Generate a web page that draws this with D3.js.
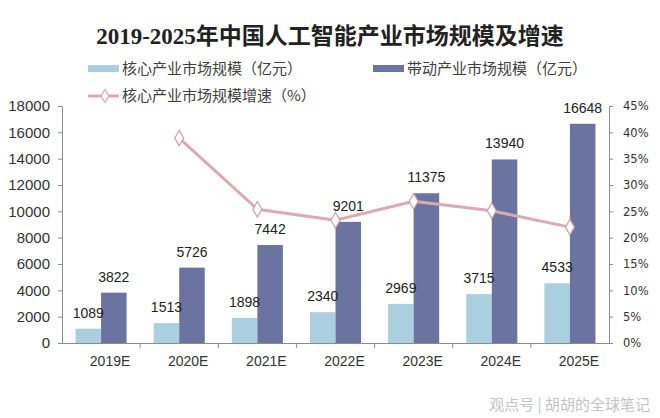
<!DOCTYPE html>
<html>
<head>
<meta charset="utf-8">
<script src="https://cdn.jsdelivr.net/npm/d3@7"></script>
<style>
  html, body { margin: 0; padding: 0; background: #fff; }
  svg { display: block; }
</style>
</head>
<body>
<div id="chart"></div>
<script>
const categories = ["2019E", "2020E", "2021E", "2022E", "2023E", "2024E", "2025E"];
const coreValues = [1089, 1513, 1898, 2340, 2969, 3715, 4533];
const drivenValues = [3822, 5726, 7442, 9201, 11375, 13940, 16648];
const growthValues = [null, 38.9, 25.4, 23.3, 26.9, 25.1, 22.0];
const leftTicks = [0, 2000, 4000, 6000, 8000, 10000, 12000, 14000, 16000, 18000];
const rightTicks = [0, 5, 10, 15, 20, 25, 30, 35, 40, 45];
const seriesNames = ["核心产业市场规模（亿元）", "带动产业市场规模（亿元）", "核心产业市场规模增速（%）"];
const titleText = "2019-2025年中国人工智能产业市场规模及增速";
const watermarkText = "观点号 | 胡胡的全球笔记";

const W = 660, H = 418;
const colCore = "#aad0df", colDriven = "#6b73a1", colLine = "#dcaab2";
const axisColor = "#8c8c8c", textColor = "#333333";

const svg = d3.select("#chart").append("svg").attr("width", W).attr("height", H);

const x = d3.scaleBand().domain(categories).range([62, 609]).paddingInner(0).paddingOuter(0);
const xs = d3.scaleBand().domain(["core", "driven"]).range([0, x.bandwidth()]).paddingInner(0).paddingOuter(0.53);
const yL = d3.scaleLinear().domain([0, 18000]).range([343, 106]);
const yR = d3.scaleLinear().domain([0, 45]).range([343, 106]);

// Title
svg.append("text")
  .attr("x", 330).attr("y", 44)
  .attr("text-anchor", "middle")
  .attr("font-family", "'Liberation Serif', 'Noto Sans CJK SC', serif")
  .attr("font-weight", "bold")
  .attr("font-size", 23)
  .attr("fill", "#222")
  .text(titleText);

// Legend
const lg = svg.append("g").attr("font-family", "'Noto Sans CJK SC', sans-serif").attr("font-size", 15).attr("fill", "#404040");
lg.append("rect").attr("x", 88).attr("y", 65).attr("width", 31).attr("height", 7).attr("fill", colCore);
lg.append("text").attr("x", 122).attr("y", 74).text(seriesNames[0]);
lg.append("rect").attr("x", 373).attr("y", 65).attr("width", 31).attr("height", 7).attr("fill", colDriven);
lg.append("text").attr("x", 407).attr("y", 74).text(seriesNames[1]);
lg.append("line").attr("x1", 88).attr("x2", 119).attr("y1", 96).attr("y2", 96)
  .attr("stroke", colLine).attr("stroke-width", 3);
lg.append("path").attr("d", d3.symbol(d3.symbolDiamond, 50)())
  .attr("transform", "translate(105,96)")
  .attr("fill", "#fff").attr("stroke", colLine).attr("stroke-width", 1.2);
lg.append("text").attr("x", 122).attr("y", 101).text(seriesNames[2]);

// Bars
const groups = svg.append("g").selectAll("g").data(categories).join("g")
  .attr("transform", d => `translate(${x(d)},0)`);
groups.append("rect")
  .attr("x", xs("core")).attr("width", xs.bandwidth())
  .attr("y", (d, i) => yL(coreValues[i]))
  .attr("height", (d, i) => yL(0) - yL(coreValues[i]))
  .attr("fill", colCore);
groups.append("rect")
  .attr("x", xs("driven")).attr("width", xs.bandwidth())
  .attr("y", (d, i) => yL(drivenValues[i]))
  .attr("height", (d, i) => yL(0) - yL(drivenValues[i]))
  .attr("fill", colDriven);

// Value labels
const lblFont = "'Liberation Sans', Arial, sans-serif";
groups.append("text")
  .attr("x", xs("core") + xs.bandwidth() / 2)
  .attr("y", (d, i) => yL(coreValues[i]) - 11)
  .attr("text-anchor", "middle")
  .attr("font-family", lblFont).attr("font-size", 14).attr("fill", "#222")
  .text((d, i) => coreValues[i]);
groups.append("text")
  .attr("x", xs("driven") + xs.bandwidth() / 2)
  .attr("y", (d, i) => yL(drivenValues[i]) - 11)
  .attr("text-anchor", "middle")
  .attr("font-family", lblFont).attr("font-size", 14).attr("fill", "#222")
  .text((d, i) => drivenValues[i]);

// Growth line
const pts = categories.map((c, i) => ({ c, v: growthValues[i] })).filter(d => d.v !== null);
const line = d3.line().x(d => x(d.c) + x.bandwidth() / 2).y(d => yR(d.v));
svg.append("path").datum(pts).attr("d", line)
  .attr("fill", "none").attr("stroke", colLine).attr("stroke-width", 3);
svg.append("g").selectAll("path").data(pts).join("path")
  .attr("d", d3.symbol(d3.symbolDiamond, 70)())
  .attr("transform", d => `translate(${x(d.c) + x.bandwidth() / 2},${yR(d.v)})`)
  .attr("fill", "#fff").attr("stroke", "#d0a0a8").attr("stroke-width", 1.2);

// Left axis
const gL = svg.append("g").attr("transform", "translate(62,0)")
  .call(d3.axisLeft(yL).tickValues(leftTicks).tickSize(4).tickPadding(8).tickFormat(d3.format("d")));
gL.select(".domain").attr("stroke", axisColor);
gL.selectAll(".tick line").attr("stroke", axisColor);
gL.selectAll("text").attr("font-family", lblFont).attr("font-size", 15).attr("fill", textColor);

// Right axis
const gR = svg.append("g").attr("transform", "translate(609,0)")
  .call(d3.axisRight(yR).tickValues(rightTicks).tickSize(4).tickPadding(10).tickFormat(d => d + "%"));
gR.select(".domain").attr("stroke", axisColor);
gR.selectAll(".tick line").attr("stroke", axisColor);
gR.selectAll("text").attr("font-family", "'DejaVu Sans', sans-serif").attr("font-size", 11.5).attr("fill", textColor);

// Bottom axis
const gB = svg.append("g").attr("transform", "translate(0,343)")
  .call(d3.axisBottom(x).tickSize(0).tickPadding(13));
gB.select(".domain").attr("stroke", axisColor);
gB.selectAll("text").attr("font-family", lblFont).attr("font-size", 14).attr("fill", textColor).attr("dx", 9);
gB.selectAll("line.bound").data(categories.slice(1)).join("line").attr("class", "bound")
  .attr("x1", d => x(d)).attr("x2", d => x(d)).attr("y1", 0).attr("y2", 5)
  .attr("stroke", axisColor);

// Watermark
svg.append("text").attr("x", 650).attr("y", 410).attr("text-anchor", "end")
  .attr("font-family", "'Noto Sans CJK SC', sans-serif").attr("font-size", 15)
  .attr("fill", "#c4c4c4").text(watermarkText);
</script>
</body>
</html>
